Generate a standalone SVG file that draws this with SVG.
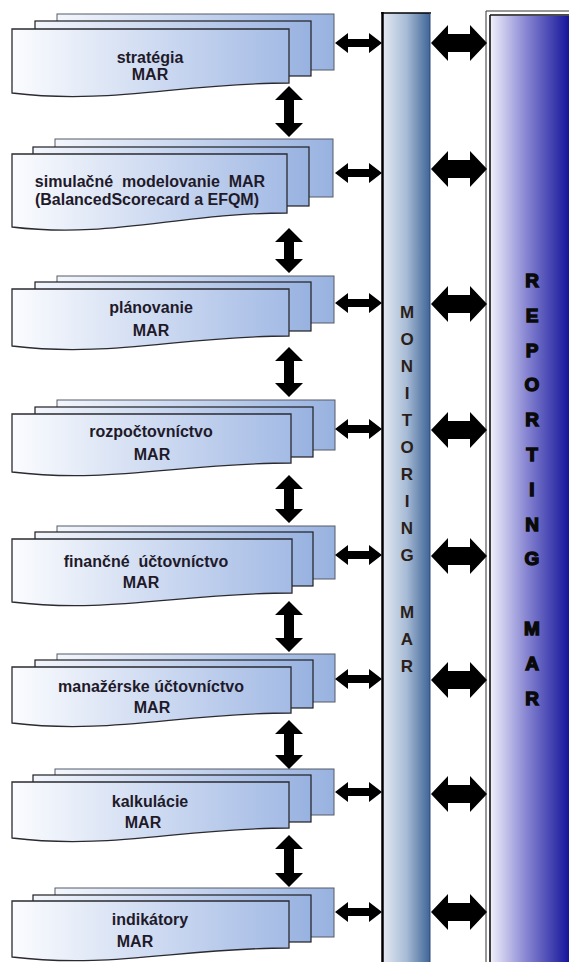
<svg xmlns="http://www.w3.org/2000/svg" xmlns:xlink="http://www.w3.org/1999/xlink" width="569" height="962" viewBox="0 0 569 962">
  <style>
    .back { fill: url(#sheetGrad); stroke: #555a66; stroke-width: 1; }
    .mid { fill: url(#sheetGrad); stroke: #1e1e22; stroke-width: 1.2; }
    .front { fill: url(#frontGrad); stroke: #2a2a30; stroke-width: 1.3; }
    .lbl { font-family: "Liberation Sans", Arial, sans-serif; font-weight: bold; font-size: 16px; text-anchor: middle; fill: #1f1a2a; }
    .mon { font-family: "Liberation Sans", Arial, sans-serif; font-weight: bold; font-size: 17px; text-anchor: middle; fill: #2a1f1a; }
    .rep { font-family: "Liberation Sans", Arial, sans-serif; font-weight: bold; font-size: 19px; text-anchor: middle; fill: #0a0a0a; stroke: #0a0a0a; stroke-width: 1.4; }
    .arr { fill: #000; }
  </style>
  <defs>
    <linearGradient id="sheetGrad" x1="0" y1="0" x2="1" y2="0">
      <stop offset="0" stop-color="#f3f6fc"/>
      <stop offset="1" stop-color="#98b2e0"/>
    </linearGradient>
    <linearGradient id="frontGrad" x1="0" y1="0" x2="1" y2="0">
      <stop offset="0" stop-color="#fbfcfe"/>
      <stop offset="1" stop-color="#a4bbe5"/>
    </linearGradient>
    <linearGradient id="monGrad" x1="0" y1="0" x2="1" y2="0">
      <stop offset="0" stop-color="#e4eaf3"/>
      <stop offset="0.5" stop-color="#a7bbd5"/>
      <stop offset="1" stop-color="#3f6597"/>
    </linearGradient>
    <linearGradient id="repGrad" x1="0" y1="0" x2="1" y2="0">
      <stop offset="0" stop-color="#eeeefb"/>
      <stop offset="0.45" stop-color="#8886d2"/>
      <stop offset="1" stop-color="#15159a"/>
    </linearGradient>
    <!-- double-headed arrows, drawn from their left tip -->
    <path id="smallArrow" d="M0,0 L13,-10 L13,-4 L34,-4 L34,-10 L47,0 L34,10 L34,4 L13,4 L13,10 Z"/>
    <path id="bigArrow" d="M0,0 L17,-18 L17,-9 L39,-9 L39,-18 L56,0 L39,18 L39,9 L17,9 L17,18 Z"/>
  </defs>

  <rect width="569" height="962" fill="#ffffff"/>

  <!-- Monitoring column -->
  <g id="monitoring">
    <rect x="383" y="13" width="47" height="960" fill="url(#monGrad)"/>
    <line x1="382.5" y1="12" x2="382.5" y2="962" stroke="#000" stroke-width="2.5"/>
    <line x1="381" y1="13" x2="431" y2="13" stroke="#000" stroke-width="1.6"/>
    <line x1="430" y1="13" x2="430" y2="962" stroke="#2c4a75" stroke-width="1"/>
    <text class="mon" x="407" y="318">M</text>
    <text class="mon" x="407" y="345">O</text>
    <text class="mon" x="407" y="372">N</text>
    <text class="mon" x="407" y="399">I</text>
    <text class="mon" x="407" y="426">T</text>
    <text class="mon" x="407" y="453">O</text>
    <text class="mon" x="407" y="480">R</text>
    <text class="mon" x="407" y="507">I</text>
    <text class="mon" x="407" y="534">N</text>
    <text class="mon" x="407" y="561">G</text>
    <text class="mon" x="407" y="618">M</text>
    <text class="mon" x="407" y="645">A</text>
    <text class="mon" x="407" y="672">R</text>
  </g>

  <!-- Reporting column -->
  <g id="reporting">
    <rect x="491" y="16" width="78" height="946" fill="url(#repGrad)"/>
    <line x1="486" y1="11" x2="486" y2="962" stroke="#333" stroke-width="1"/>
    <line x1="486" y1="11" x2="569" y2="11" stroke="#333" stroke-width="1"/>
    <line x1="490" y1="15" x2="490" y2="962" stroke="#111" stroke-width="1.6"/>
    <line x1="490" y1="15" x2="569" y2="15" stroke="#111" stroke-width="1.4"/>
    <text class="rep" x="532" y="287">R</text>
    <text class="rep" x="532" y="322">E</text>
    <text class="rep" x="532" y="357">P</text>
    <text class="rep" x="532" y="391">O</text>
    <text class="rep" x="532" y="426">R</text>
    <text class="rep" x="532" y="461">T</text>
    <text class="rep" x="532" y="496">I</text>
    <text class="rep" x="532" y="531">N</text>
    <text class="rep" x="532" y="565">G</text>
    <text class="rep" x="532" y="635">M</text>
    <text class="rep" x="532" y="670">A</text>
    <text class="rep" x="532" y="705">R</text>
  </g>

  <g id="node-strategia">
    <rect class="back" x="57" y="14" width="277" height="56"/>
    <rect class="mid" x="35" y="21" width="276" height="55"/>
    <path class="front" d="M12,29 H289 V83 C180,83 110,105 12,93 Z"/>
    <text class="lbl" x="150" y="63">stratégia</text>
    <text class="lbl" x="150" y="80">MAR</text>
  </g>

  <g id="node-simulacne-modelovanie">
    <rect class="back" x="55" y="139" width="278" height="58"/>
    <rect class="mid" x="33" y="147" width="276" height="59"/>
    <path class="front" d="M12,154 H287 V213 C180,213 110,239 12,227 Z"/>
    <text class="lbl" x="150" y="187" xml:space="preserve">simulačné  modelovanie  MAR</text>
    <text class="lbl" x="147" y="205">(BalancedScorecard a EFQM)</text>
  </g>

  <g id="node-planovanie">
    <rect class="back" x="57" y="276" width="277" height="47"/>
    <rect class="mid" x="35" y="282" width="276" height="49"/>
    <path class="front" d="M12,289 H289 V336 C180,336 110,358 12,346 Z"/>
    <text class="lbl" x="151" y="313">plánovanie</text>
    <text class="lbl" x="151" y="336">MAR</text>
  </g>

  <g id="node-rozpoctovnictvo">
    <rect class="back" x="57" y="400" width="278" height="50"/>
    <rect class="mid" x="35" y="407" width="278" height="50"/>
    <path class="front" d="M12,414 H291 V463 C180,463 110,484 12,472 Z"/>
    <text class="lbl" x="151" y="437">rozpočtovníctvo</text>
    <text class="lbl" x="152" y="460">MAR</text>
  </g>

  <g id="node-financne-uctovnictvo">
    <rect class="back" x="57" y="526" width="278" height="53"/>
    <rect class="mid" x="35" y="532" width="278" height="54"/>
    <path class="front" d="M12,539 H292 V593 C180,593 110,614 12,602 Z"/>
    <text class="lbl" x="146" y="567" xml:space="preserve">finančné  účtovníctvo</text>
    <text class="lbl" x="141" y="588">MAR</text>
  </g>

  <g id="node-manazerske-uctovnictvo">
    <rect class="back" x="57" y="654" width="278" height="48"/>
    <rect class="mid" x="35" y="660" width="278" height="48"/>
    <path class="front" d="M12,667 H291 V713 C180,713 110,735 12,723 Z"/>
    <text class="lbl" x="151" y="692">manažérske účtovníctvo</text>
    <text class="lbl" x="152" y="713">MAR</text>
  </g>

  <g id="node-kalkulacie">
    <rect class="back" x="55" y="769" width="279" height="46"/>
    <rect class="mid" x="33" y="775" width="278" height="47"/>
    <path class="front" d="M12,782 H289 V828 C180,828 110,850 12,838 Z"/>
    <text class="lbl" x="150" y="807">kalkulácie</text>
    <text class="lbl" x="143" y="828">MAR</text>
  </g>

  <g id="node-indikatory">
    <rect class="back" x="55" y="888" width="279" height="49"/>
    <rect class="mid" x="33" y="895" width="278" height="47"/>
    <path class="front" d="M12,901 H289 V948 C180,948 110,969 12,957 Z"/>
    <text class="lbl" x="150" y="925">indikátory</text>
    <text class="lbl" x="135" y="947">MAR</text>
  </g>

  <g id="connectors" class="arr">
    <!-- vertical links between neighbouring levels -->
    <path d="M289,86 L303,100 L294,100 L294,123 L303,123 L289,137 L275,123 L284,123 L284,100 L275,100 Z"/>
    <path d="M289,228 L303,242 L294,242 L294,259 L303,259 L289,273 L275,259 L284,259 L284,242 L275,242 Z"/>
    <path d="M289,347 L303,361 L294,361 L294,383 L303,383 L289,397 L275,383 L284,383 L284,361 L275,361 Z"/>
    <path d="M289,475 L303,489 L294,489 L294,509 L303,509 L289,523 L275,509 L284,509 L284,489 L275,489 Z"/>
    <path d="M289,601 L303,615 L294,615 L294,638 L303,638 L289,652 L275,638 L284,638 L284,615 L275,615 Z"/>
    <path d="M289,720 L303,734 L294,734 L294,755 L303,755 L289,769 L275,755 L284,755 L284,734 L275,734 Z"/>
    <path d="M289,835 L303,849 L294,849 L294,873 L303,873 L289,887 L275,873 L284,873 L284,849 L275,849 Z"/>

    <!-- level to monitoring -->
    <use xlink:href="#smallArrow" x="335" y="43"/>
    <use xlink:href="#smallArrow" x="335" y="173"/>
    <use xlink:href="#smallArrow" x="335" y="303"/>
    <use xlink:href="#smallArrow" x="335" y="429"/>
    <use xlink:href="#smallArrow" x="335" y="555"/>
    <use xlink:href="#smallArrow" x="335" y="679"/>
    <use xlink:href="#smallArrow" x="335" y="792"/>
    <use xlink:href="#smallArrow" x="335" y="912"/>

    <!-- monitoring to reporting -->
    <use xlink:href="#bigArrow" x="431" y="43"/>
    <use xlink:href="#bigArrow" x="431" y="169"/>
    <use xlink:href="#bigArrow" x="431" y="304"/>
    <use xlink:href="#bigArrow" x="431" y="430"/>
    <use xlink:href="#bigArrow" x="431" y="556"/>
    <use xlink:href="#bigArrow" x="431" y="680"/>
    <use xlink:href="#bigArrow" x="431" y="794"/>
    <use xlink:href="#bigArrow" x="431" y="912"/>
  </g>
</svg>
